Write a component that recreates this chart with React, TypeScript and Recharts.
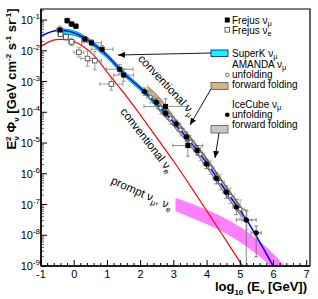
import React from "react";
import {
  Area,
  ComposedChart,
  ErrorBar,
  Line,
  ReferenceArea,
  Scatter,
  XAxis,
  YAxis,
} from "recharts";

const FONT = '"Liberation Sans", Arial, Helvetica, sans-serif';

// axes: x = log10(E / GeV), y = log10(E^2 Phi)
const X_MIN = -1;
const X_MAX = 7.1;
const Y_MIN = -9;
const Y_MAX = -0.64;
const yMajor = [-9, -8, -7, -6, -5, -4, -3, -2, -1];

// conventional nu_mu (blue)
const numuX = [-1, -0.75, -0.45, -0.2, 0, 0.25, 0.5, 0.75, 1, 1.5, 2, 2.5, 3, 3.5, 4, 4.5, 5, 5.18, 5.6, 6.0];
const numuY = [-1.52, -1.4, -1.33, -1.36, -1.42, -1.55, -1.72, -1.93, -2.17, -2.74, -3.22, -3.76, -4.33, -4.97, -5.66, -6.45, -7.2, -7.48, -8.25, -9.02];

// conventional nu_e (red)
const nueX = [-1, -0.75, -0.45, -0.2, 0, 0.25, 0.5, 0.75, 1, 1.5, 2, 2.5, 3, 3.5, 4, 4.5, 5, 5.2];
const nueY = [-1.86, -1.7, -1.63, -1.64, -1.7, -1.84, -2.05, -2.35, -2.7, -3.38, -4.1, -4.85, -5.6, -6.4, -7.22, -8.05, -8.88, -9.22];

// prompt band (pink)
const promptX = [3.05, 3.5, 4, 4.5, 5, 5.5, 6, 6.5];
const promptHi = [-6.78, -6.96, -7.17, -7.42, -7.73, -8.12, -8.6, -9.2];
const promptLo = [-7.22, -7.42, -7.64, -7.9, -8.23, -8.62, -9.1, -9.7];

// SuperK band (cyan)
const superkX = [-0.5, 0, 0.5, 1, 1.5, 2, 2.5, 2.8];
const superkHi = [-1.27, -1.35, -1.65, -2.1, -2.67, -3.15, -3.69, -4.03];
const superkLo = [-1.45, -1.5, -1.8, -2.25, -2.82, -3.3, -3.84, -4.18];

// AMANDA forward folding (tan)
const amandaFfX = [2.2, 2.6, 3, 3.5, 4, 4.5, 5, 5.1];
const amandaFfHi = [-3.15, -3.57, -4.15, -4.8, -5.5, -6.28, -7.03, -7.17];
const amandaFfLo = [-3.42, -3.85, -4.43, -5.08, -5.78, -6.56, -7.32, -7.46];

// IceCube forward folding (gray)
const icecubeFfX = [2.5, 3, 3.5, 4, 4.5, 5];
const icecubeFfHi = [-3.64, -4.2, -4.85, -5.54, -6.32, -7.07];
const icecubeFfLo = [-3.88, -4.46, -5.1, -5.8, -6.58, -7.33];

// Frejus nu_mu (filled squares)
const frejusMuX = [-0.43, -0.21, -0.08, 0.05, 0.32, 0.52, 0.84, 1.37, 1.49, 2.75, 3.42];
const frejusMuY = [-1.32, -1.02, -1.13, -1.2, -1.62, -1.74, -1.95, -2.6, -2.79, -3.81, -5.08];
const frejusMuXErr = [0.1, 0.08, 0.08, 0.08, 0.1, 0.3, 0.33, 0.4, 0.3, 0.65, 0.45];
const frejusMuYErr = [0.12, 0.08, 0.08, 0.08, 0.08, 0.1, 0.12, 0.15, 0.2, 0.25, 0.35];

// Frejus nu_e (open squares)
const frejusEX = [-0.41, -0.25, -0.08, 0.14, 0.4, 0.62, 1.12];
const frejusEY = [-1.46, -1.55, -1.71, -2.05, -2.25, -2.32, -3.08];
const frejusEXErr = [0.08, 0.08, 0.1, 0.15, 0.2, 0.2, 0.35];
const frejusEYErr = [0.08, 0.1, 0.12, 0.15, 0.25, 0.3, 0.2];

// AMANDA unfolding (open circles)
const amandaX = [2.3, 2.6, 2.9, 3.2, 3.5, 3.8, 4.1, 4.4, 4.7, 5.0, 5.2];
const amandaY = [-3.5, -3.86, -4.2, -4.57, -4.96, -5.36, -5.8, -6.27, -6.72, -7.15, -7.52];
const amandaXErr = [0.12, 0.12, 0.12, 0.12, 0.12, 0.12, 0.12, 0.12, 0.12, 0.12, 0.15];
const amandaYErr = [0.2, 0.2, 0.2, 0.2, 0.2, 0.22, 0.22, 0.25, 0.25, 0.3, 0.3];

// IceCube unfolding (filled circles)
const icecubeX = [2.12, 2.47, 2.75, 3.07, 3.38, 3.7, 3.98, 4.28, 4.58, 4.88, 5.18, 5.48];
const icecubeY = [-3.33, -3.67, -4.03, -4.38, -4.8, -5.24, -5.68, -6.15, -6.6, -7.08, -7.5, -7.92];
const icecubeXErr = [0.1, 0.1, 0.1, 0.1, 0.1, 0.1, 0.1, 0.1, 0.1, 0.1, 0.3, 0.15];
const icecubeYErrLo = [0.12, 0.12, 0.12, 0.12, 0.15, 0.15, 0.15, 0.18, 0.2, 0.25, 1.5, 0.78];
const icecubeYErrHi = [0.12, 0.12, 0.12, 0.12, 0.15, 0.15, 0.15, 0.18, 0.2, 0.25, 0.32, 0.22];

const xTicks: number[] = [];
for (let i = 0; i <= 40; i++) xTicks.push(Math.round((X_MIN + i * 0.2) * 10) / 10);
const yTicks: number[] = [];
yMajor.forEach((d) => {
  yTicks.push(d);
  for (let k = 2; k <= 9; k++) {
    const v = d + Math.log10(k);
    if (v < Y_MAX) yTicks.push(v);
  }
});

const line = (xs: number[], ys: number[]) => xs.map((x, i) => ({ x, y: ys[i] }));
const band = (xs: number[], lo: number[], hi: number[]) => xs.map((x, i) => ({ x, lo: lo[i], hi: hi[i] }));

const numuData = line(numuX, numuY);
const nueData = line(nueX, nueY);
const promptData = band(promptX, promptLo, promptHi);
const superkData = band(superkX, superkLo, superkHi);
const amandaFfData = band(amandaFfX, amandaFfLo, amandaFfHi);
const icecubeFfData = band(icecubeFfX, icecubeFfLo, icecubeFfHi);
const frejusMuData = frejusMuX.map((x, i) => ({ x, y: frejusMuY[i], ex: frejusMuXErr[i], ey: frejusMuYErr[i] }));
const frejusEData = frejusEX.map((x, i) => ({ x, y: frejusEY[i], ex: frejusEXErr[i], ey: frejusEYErr[i] }));
const amandaData = amandaX.map((x, i) => ({ x, y: amandaY[i], ex: amandaXErr[i], ey: amandaYErr[i] }));
const icecubeData = icecubeX.map((x, i) => ({
  x,
  y: icecubeY[i],
  ex: icecubeXErr[i],
  ey: [icecubeYErrLo[i], icecubeYErrHi[i]],
}));

const isMajor = (v: number) => Math.abs(v - Math.round(v)) < 1e-6;

function XTick(props: any) {
  const { x, y, payload } = props;
  const v = payload.value;
  const major = isMajor(v);
  return (
    <g>
      <line x1={x} x2={x} y1={y} y2={y - (major ? 6 : 3)} stroke="#000" strokeWidth={1} />
      {major && (
        <text x={x} y={y + 11.5} textAnchor="middle" fontSize={11} fontFamily={FONT} fill="#000">
          {Math.round(v)}
        </text>
      )}
    </g>
  );
}

function YTick(props: any) {
  const { x, y, payload } = props;
  const v = payload.value;
  const major = isMajor(v);
  return (
    <g>
      <line x1={x} x2={x + (major ? 6 : 3)} y1={y} y2={y} stroke="#000" strokeWidth={major ? 1 : 0.6} />
      {major && (
        <text x={x - 1} y={y + 4} textAnchor="end" fontSize={11} fontFamily={FONT} fill="#000">
          10<tspan dy={-5} fontSize={8}>{Math.round(v)}</tspan>
        </text>
      )}
    </g>
  );
}

const rangeKey = (d: any) => [d.lo, d.hi];

const filledSquare = (p: any) => <rect x={p.cx - 2.5} y={p.cy - 2.5} width={5} height={5} fill="#000" />;
const openSquare = (p: any) => (
  <rect x={p.cx - 2.3} y={p.cy - 2.3} width={4.6} height={4.6} fill="#fff" stroke="#444" strokeWidth={0.8} />
);
const openCircle = (p: any) => <circle cx={p.cx} cy={p.cy} r={1.8} fill="#fff" stroke="#333" strokeWidth={0.7} />;
const filledCircle = (p: any) => <circle cx={p.cx} cy={p.cy} r={2.6} fill="#000" />;

const Nu = ({ sub }: { sub: string }) => (
  <>
    <tspan>ν</tspan>
    <tspan dy={2} fontSize={7.5}>{sub}</tspan>
  </>
);

export default function App() {
  return (
    <div style={{ position: "absolute", left: 0, top: 0, width: 318, height: 299, background: "#fff" }}>
      <ComposedChart width={318} height={299} margin={{ top: 9, right: 8, left: 0, bottom: 0 }}>
        <XAxis
          type="number"
          dataKey="x"
          domain={[X_MIN, X_MAX]}
          allowDataOverflow
          ticks={xTicks}
          interval={0}
          tickSize={0}
          tickMargin={0}
          tickLine={false}
          tick={XTick}
          axisLine={{ stroke: "#000", strokeWidth: 1.5 }}
          height={33}
        />
        <YAxis
          type="number"
          dataKey="y"
          domain={[Y_MIN, Y_MAX]}
          allowDataOverflow
          ticks={yTicks}
          interval={0}
          tickSize={0}
          tickMargin={0}
          tickLine={false}
          tick={YTick}
          axisLine={{ stroke: "#000", strokeWidth: 1.5 }}
          width={41}
        />
        <ReferenceArea x1={X_MIN} x2={X_MAX} y1={Y_MIN} y2={Y_MAX} fill="none" stroke="#000" strokeWidth={1.2} />
        <Area data={promptData} dataKey={rangeKey} type="monotone" stroke="none" fill="#ff80ff" fillOpacity={1} isAnimationActive={false} dot={false} activeDot={false} />
        <Area data={amandaFfData} dataKey={rangeKey} type="monotone" stroke="#4a3a1a" strokeWidth={0.7} fill="#d6b481" fillOpacity={1} isAnimationActive={false} dot={false} activeDot={false} />
        <Area data={icecubeFfData} dataKey={rangeKey} type="monotone" stroke="#333" strokeWidth={0.7} fill="#c4c4c4" fillOpacity={1} isAnimationActive={false} dot={false} activeDot={false} />
        <Area data={superkData} dataKey={rangeKey} type="monotone" stroke="#005050" strokeWidth={0.6} fill="#00e5e5" fillOpacity={1} isAnimationActive={false} dot={false} activeDot={false} />
        <Line data={nueData} dataKey="y" type="monotone" stroke="#ff0000" strokeWidth={1.2} dot={false} activeDot={false} isAnimationActive={false} />
        <Line data={numuData} dataKey="y" type="monotone" stroke="#0000ff" strokeWidth={1.5} dot={false} activeDot={false} isAnimationActive={false} />
        <Scatter data={amandaData} shape={openCircle} isAnimationActive={false}>
          <ErrorBar dataKey="ex" direction="x" width={2} stroke="#999" strokeWidth={0.7} />
          <ErrorBar dataKey="ey" direction="y" width={2} stroke="#999" strokeWidth={0.7} />
        </Scatter>
        <Scatter data={frejusEData} shape={openSquare} isAnimationActive={false}>
          <ErrorBar dataKey="ex" direction="x" width={2} stroke="#888" strokeWidth={0.8} />
          <ErrorBar dataKey="ey" direction="y" width={2} stroke="#888" strokeWidth={0.8} />
        </Scatter>
        <Scatter data={frejusMuData} shape={filledSquare} isAnimationActive={false}>
          <ErrorBar dataKey="ex" direction="x" width={2} stroke="#777" strokeWidth={0.8} />
          <ErrorBar dataKey="ey" direction="y" width={2} stroke="#777" strokeWidth={0.8} />
        </Scatter>
        <Scatter data={icecubeData} shape={filledCircle} isAnimationActive={false}>
          <ErrorBar dataKey="ex" direction="x" width={2} stroke="#666" strokeWidth={0.8} />
          <ErrorBar dataKey="ey" direction="y" width={2} stroke="#666" strokeWidth={0.8} />
        </Scatter>
      </ComposedChart>

      <svg
        width={318}
        height={299}
        style={{ position: "absolute", left: 0, top: 0, pointerEvents: "none" }}
        fontFamily={FONT}
      >
        <defs>
          <marker id="arrow" markerUnits="userSpaceOnUse" markerWidth={7} markerHeight={6} refX={7} refY={3} orient="auto">
            <path d="M0,0 L7,3 L0,6 z" fill="#000" />
          </marker>
        </defs>

        {/* axis titles */}
        <text transform="translate(15.5,79) rotate(-90)" textAnchor="middle" fontSize={13} fontWeight="bold">
          E<tspan dy={-5} fontSize={8}>2</tspan>
          <tspan dx={-4} dy={8} fontSize={8}>ν</tspan>
          <tspan dy={-3}> Φ</tspan>
          <tspan dy={3} fontSize={8}>ν</tspan>
          <tspan dy={-3}> [GeV cm</tspan>
          <tspan dy={-5} fontSize={8}>-2</tspan>
          <tspan dy={5}> s</tspan>
          <tspan dy={-5} fontSize={8}>-1</tspan>
          <tspan dy={5}> sr</tspan>
          <tspan dy={-5} fontSize={8}>-1</tspan>
          <tspan dy={5}>]</tspan>
        </text>
        <text x={307} y={291} textAnchor="end" fontSize={13} fontWeight="bold">
          log<tspan dy={4} fontSize={8}>10</tspan>
          <tspan dy={-4}> (E</tspan>
          <tspan dy={3} fontSize={8}>ν</tspan>
          <tspan dy={-3}> [GeV])</tspan>
        </text>

        {/* curve labels */}
        <text transform="translate(167,85) rotate(47)" textAnchor="middle" y={4} fontSize={11.5}>
          conventional ν<tspan dy={3} fontSize={8}>μ</tspan>
        </text>
        <text transform="translate(147,140) rotate(52)" textAnchor="middle" y={4} fontSize={11.5}>
          conventional ν<tspan dy={3} fontSize={8}>e</tspan>
        </text>
        <text transform="translate(142,193) rotate(24)" textAnchor="middle" y={4} fontSize={11.5}>
          prompt ν<tspan dy={3} fontSize={8}>μ</tspan>
          <tspan dy={-3}>, ν</tspan>
          <tspan dy={3} fontSize={8}>e</tspan>
        </text>

        {/* legend */}
        <g fontSize={10} fill="#000">
          <rect x={224.8} y={17.5} width={5} height={5} fill="#000" />
          <text x={232} y={23.5}>
            Frejus <Nu sub="μ" />
          </text>
          <rect x={225} y={27.5} width={4.6} height={4.6} fill="#fff" stroke="#444" strokeWidth={0.8} />
          <text x={232} y={33.5}>
            Frejus <Nu sub="e" />
          </text>

          <rect x={211} y={50} width={17} height={6.5} fill="#00ffff" stroke="#0000aa" strokeWidth={0.8} />
          <text x={232} y={56.5}>
            SuperK <Nu sub="μ" />
          </text>

          <text x={232} y={68}>
            AMANDA <Nu sub="μ" />
          </text>
          <circle cx={227.3} cy={74.8} r={1.8} fill="#fff" stroke="#333" strokeWidth={0.7} />
          <text x={232} y={78.3}>unfolding</text>
          <rect x={211} y={82.5} width={17} height={7} fill="#d6b481" stroke="#555" strokeWidth={0.8} />
          <text x={232} y={88.3}>forward folding</text>

          <text x={232} y={108}>
            IceCube <Nu sub="μ" />
          </text>
          <circle cx={227.3} cy={114.8} r={2.3} fill="#000" />
          <text x={232} y={118.3}>unfolding</text>
          <rect x={211} y={125.5} width={17} height={7.5} fill="#c8c8c8" stroke="#555" strokeWidth={0.8} />
          <text x={232} y={128}>forward folding</text>
        </g>

        {/* arrows from legend to curves */}
        <line x1={211} y1={53} x2={118} y2={55} stroke="#000" strokeWidth={0.9} markerEnd="url(#arrow)" />
        <line x1={211} y1={89} x2={190} y2={125} stroke="#000" strokeWidth={0.9} markerEnd="url(#arrow)" />
        <line x1={219} y1={133} x2={215} y2={158} stroke="#000" strokeWidth={0.9} markerEnd="url(#arrow)" />
      </svg>
    </div>
  );
}
